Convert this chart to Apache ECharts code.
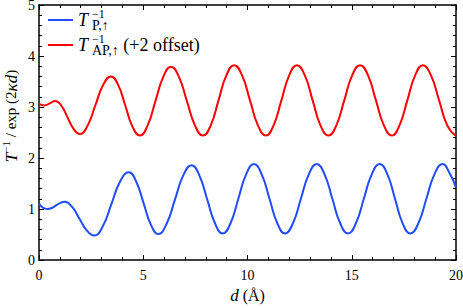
<!DOCTYPE html>
<html><head><meta charset="utf-8">
<script src="https://cdn.jsdelivr.net/npm/echarts@6/dist/echarts.min.js"></script>
<style>html,body{margin:0;padding:0;background:#fff}#c{width:463px;height:308px}</style>
</head><body><div id="c"></div><script>
const xTicks = [0, 5, 10, 15, 20];
const yTicks = [0, 1, 2, 3, 4, 5];
const seriesNames = ['P', 'AP'];
const blueX = [0, 0.2, 0.40, 0.61, 0.82, 1.03, 1.24, 1.59, 1.94, 2.29, 2.64, 3.06, 3.475, 3.89, 4.31, 4.66, 5.015, 5.37, 5.72, 6.12, 6.52, 6.92, 7.32, 7.69, 8.065, 8.44, 8.81, 9.185, 9.56, 9.935, 10.31, 10.68, 11.055, 11.43, 11.80, 12.18, 12.56, 12.94, 13.32, 13.695, 14.07, 14.445, 14.82, 15.20, 15.58, 15.96, 16.34, 16.71, 17.075, 17.44, 17.81, 18.195, 18.58, 18.965, 19.35, 19.72, 20];
const blueY = [1.11, 1.02, 1.00, 1.02, 1.07, 1.12, 1.14, 1.04, 0.81, 0.58, 0.48, 0.66, 1.10, 1.54, 1.72, 1.54, 1.115, 0.69, 0.51, 0.71, 1.185, 1.66, 1.86, 1.66, 1.19, 0.72, 0.52, 0.72, 1.20, 1.68, 1.88, 1.68, 1.20, 0.72, 0.52, 0.72, 1.20, 1.68, 1.88, 1.68, 1.20, 0.72, 0.52, 0.72, 1.20, 1.68, 1.88, 1.68, 1.20, 0.72, 0.52, 0.72, 1.20, 1.68, 1.88, 1.68, 1.42];
const redX = [0, 0.25, 0.51, 0.78, 1.075, 1.37, 1.665, 1.96, 2.33, 2.705, 3.08, 3.45, 3.80, 4.145, 4.49, 4.84, 5.21, 5.585, 5.96, 6.33, 6.71, 7.095, 7.48, 7.86, 8.235, 8.61, 8.985, 9.36, 9.74, 10.12, 10.50, 10.88, 11.25, 11.625, 12.0, 12.37, 12.75, 13.125, 13.50, 13.88, 14.26, 14.64, 15.02, 15.40, 15.78, 16.16, 16.54, 16.92, 17.29, 17.665, 18.04, 18.41, 18.80, 19.19, 19.58, 20];
const redY = [3.06, 3.03, 3.07, 3.12, 3.025, 2.795, 2.565, 2.47, 2.635, 3.035, 3.435, 3.60, 3.43, 3.02, 2.61, 2.44, 2.64, 3.115, 3.59, 3.79, 3.59, 3.115, 2.64, 2.44, 2.64, 3.13, 3.62, 3.82, 3.62, 3.13, 2.64, 2.44, 2.64, 3.13, 3.62, 3.82, 3.62, 3.13, 2.64, 2.44, 2.64, 3.13, 3.62, 3.82, 3.62, 3.13, 2.64, 2.44, 2.64, 3.13, 3.62, 3.82, 3.62, 3.13, 2.64, 2.43];
const yTitle = '{T|T}{sp|\u22121}{r| / exp (2}{T|\u03BAd}{r|)}';
const xTitle = '{T|d}{r| (\u00C5)}';

const F = '"Liberation Serif", "DejaVu Serif", serif';
const pairs = (xs, ys) => xs.map((x, i) => [x, ys[i]]);
const legRich = {
  T: {fontFamily: F, fontStyle: 'italic', fontSize: 18, lineHeight: 24, verticalAlign: 'middle', color: '#000', padding: [0, 4, 0, 0]},
  sp: {fontFamily: F, fontSize: 12, lineHeight: 11, verticalAlign: 'top', width: 0, color: '#000'},
  sb: {fontFamily: F, fontSize: 14, lineHeight: 12, verticalAlign: 'bottom', color: '#000'},
  r: {fontFamily: F, fontSize: 18, lineHeight: 24, verticalAlign: 'middle', color: '#000'}
};
const nameRich = {
  T: {fontFamily: F, fontStyle: 'italic', fontSize: 17, lineHeight: 22, verticalAlign: 'middle', color: '#000'},
  sp: {fontFamily: F, fontSize: 12, lineHeight: 12, verticalAlign: 'top', color: '#000'},
  r: {fontFamily: F, fontSize: 16, lineHeight: 22, verticalAlign: 'middle', color: '#000'}
};
const yRich = {
  T: {fontFamily: F, fontStyle: 'italic', fontSize: 17, lineHeight: 22, verticalAlign: 'middle', color: '#000'},
  sp: {fontFamily: F, fontSize: 11, lineHeight: 11, verticalAlign: 'top', color: '#000'},
  r: {fontFamily: F, fontSize: 15, lineHeight: 22, verticalAlign: 'middle', color: '#000'}
};
const legendText = {
  P: '{T|T}{sp|\u22121}{sb|P,\u2191}',
  AP: '{T|T}{sp|\u22121}{sb|AP,\u2191}{r| (+2 offset)}'
};
const axLine = {show: true, onZero: false, lineStyle: {color: '#000', width: 1.5}};
const axTick = {show: true, inside: true, length: 5, lineStyle: {color: '#000', width: 1}};
const minTick = {show: true, splitNumber: 5, length: 3, lineStyle: {color: '#000', width: 1}};
const xBase = {type: 'value', min: xTicks[0], max: xTicks[xTicks.length - 1], interval: xTicks[1] - xTicks[0],
  axisLine: axLine, axisTick: axTick, minorTick: minTick, splitLine: {show: false}};
const yBase = {type: 'value', min: yTicks[0], max: yTicks[yTicks.length - 1], interval: yTicks[1] - yTicks[0],
  axisLine: axLine, axisTick: axTick, minorTick: minTick, splitLine: {show: false}};

const chart = echarts.init(document.getElementById('c'), null, {renderer: 'svg'});
chart.setOption({
  animation: false,
  backgroundColor: '#fff',
  grid: {left: 39, right: 7, top: 5, bottom: 48, containLabel: false, outerBoundsMode: 'none'},
  legend: {
    orient: 'vertical', left: 48, top: 8, padding: 0, itemGap: 1,
    itemWidth: 25, itemHeight: 2, icon: 'rect',
    data: seriesNames,
    formatter: n => legendText[n],
    textStyle: {rich: legRich}
  },
  graphic: [{
    type: 'text', x: 11, y: 116, rotation: Math.PI / 2,
    style: {text: yTitle, rich: yRich, align: 'center', verticalAlign: 'middle'}
  }],
  xAxis: [
    Object.assign({}, xBase, {position: 'bottom',
      axisLabel: {show: true, margin: 8, color: '#000', fontFamily: F, fontSize: 14, formatter: v => String(v)},
      name: xTitle, nameLocation: 'middle', nameGap: 24,
      nameTextStyle: {rich: nameRich}}),
    Object.assign({}, xBase, {position: 'top', axisLabel: {show: false}})
  ],
  yAxis: [
    Object.assign({}, yBase, {position: 'left',
      axisLabel: {show: true, margin: 4, color: '#000', fontFamily: F, fontSize: 14, lineHeight: 10, formatter: v => String(v)}}),
    Object.assign({}, yBase, {position: 'right', axisLabel: {show: false}})
  ],
  series: [
    {name: 'P', type: 'line', data: pairs(blueX, blueY), smooth: 0.5, symbol: 'none',
      lineStyle: {color: '#1f4cff', width: 2}, itemStyle: {color: '#1f4cff'}, clip: true},
    {name: 'AP', type: 'line', data: pairs(redX, redY), smooth: 0.5, symbol: 'none',
      lineStyle: {color: '#ff0000', width: 2}, itemStyle: {color: '#ff0000'}, clip: true}
  ]
});
</script></body></html>
